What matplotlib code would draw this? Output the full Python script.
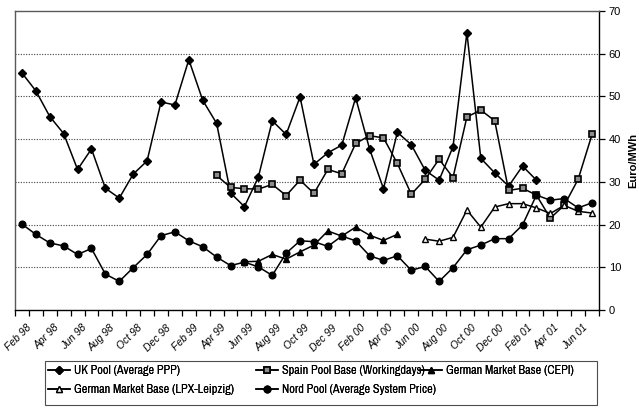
import numpy as np
import matplotlib
matplotlib.use("Agg")
import matplotlib.pyplot as plt
from matplotlib import font_manager as fm
from matplotlib.font_manager import FontProperties
from matplotlib.patches import Rectangle

nan = np.nan

# Monthly prices, Feb 98 .. Jul 01 (42 months)
n_months = 42
tick_labels = ["Feb 98", "Apr 98", "Jun 98", "Aug 98", "Oct 98", "Dec 98",
               "Feb 99", "Apr 99", "Jun 99", "Aug 99", "Oct 99", "Dec 99",
               "Feb 00", "Apr 00", "Jun 00", "Aug 00", "Oct 00", "Dec 00",
               "Feb 01", "Apr 01", "Jun 01"]

uk_pool = [55.5, 51.3, 45.3, 41.3, 32.9, 37.7, 28.5, 26.2, 31.8, 34.9, 48.7, 48.0,
           58.6, 49.1, 43.7, 27.4, 24.2, 31.1, 44.3, 41.1, 49.9, 34.1, 36.8, 38.6,
           49.7, 37.7, 28.4, 41.6, 38.7, 32.7, 30.4, 38.2, 64.9, 35.5, 32.1, 29.0,
           33.7, 30.4, nan, nan, nan, nan]

spain_pool = [nan] * 14 + [31.5, 28.7, 28.4, 28.3, 29.4, 26.8, 30.4, 27.3, 32.9, 31.9,
                           39.0, 40.8, 40.3, 34.3, 27.1, 30.6, 35.3, 31.0, 45.2, 46.8,
                           44.3, 28.0, 28.5, 26.9, 21.5, 24.5, 30.6, 41.1]

german_cepi = [nan] * 16 + [11.3, 11.4, 13.0, 11.9, 13.6, 15.2, 18.5, 17.3, 19.4, 17.5,
                            16.3, 17.7] + [nan] * 14

german_lpx = [nan] * 29 + [16.6, 16.1, 17.0, 23.4, 19.4, 24.1, 24.9, 24.9, 23.9, 22.6,
                           24.5, 23.1, 22.7]

nord_pool = [20.1, 17.7, 15.7, 15.0, 13.0, 14.4, 8.4, 6.7, 9.9, 13.0, 17.4, 18.3,
             16.2, 14.8, 12.4, 10.4, 11.2, 10.1, 8.1, 13.3, 16.2, 16.0, 14.9, 17.3,
             16.2, 12.7, 11.6, 12.7, 9.3, 10.2, 6.7, 9.9, 14.1, 15.2, 16.7, 16.7,
             19.9, 26.9, 25.7, 26.1, 23.9, 25.1]

names = ["UK Pool (Average PPP)", "Spain Pool Base (Workingdays)",
         "German Market Base (CEPI)", "German Market Base (LPX-Leipzig)",
         "Nord Pool (Average System Price)"]

plt.rcParams["font.family"] = ["Liberation Sans", "DejaVu Sans"]


def narrow_font():
    """Return a condensed sans-serif face if one is installed."""
    best = None
    for f in fm.fontManager.ttflist:
        if f.style != "normal" or f.weight not in (400, "normal", "regular"):
            continue
        if "Narrow" in f.name:
            return f.fname
        if f.stretch in ("condensed", "semi-condensed") and best is None:
            best = f.fname
    return best


nf = narrow_font()
if nf:
    legend_font = FontProperties(fname=nf, size=8.8)
else:
    legend_font = FontProperties(family="Liberation Sans", size=7.0)

fig = plt.figure(figsize=(6.39, 4.13), dpi=100)
W, H = 639, 413
ax = fig.add_axes([15 / W, 1 - 310 / H, (599 - 15) / W, (310 - 11) / H])

x = np.arange(n_months)
lw = 1.1
ms = 4.5
h_uk, = ax.plot(x, uk_pool, color="k", lw=lw, marker="D", ms=ms - 0.8, mfc="k", mec="k")
h_es, = ax.plot(x, spain_pool, color="k", lw=lw, marker="s", ms=ms, mfc="0.55", mec="k",
                mew=1.2)
h_ce, = ax.plot(x, german_cepi, color="k", lw=lw, marker="^", ms=ms + 0.5, mfc="k", mec="k")
h_lp, = ax.plot(x, german_lpx, color="k", lw=lw, marker="^", ms=ms + 0.5, mfc="white",
                mec="k", mew=1.0)
h_np, = ax.plot(x, nord_pool, color="k", lw=lw, marker="o", ms=ms + 0.3, mfc="k", mec="k")

ax.set_xlim(-0.5, n_months - 0.5)
ax.set_ylim(0, 70)

# y axis on the right
ax.yaxis.tick_right()
ax.yaxis.set_label_position("right")
ax.set_yticks(np.arange(0, 71, 10))
ax.tick_params(axis="y", direction="out", length=4, width=0.9, labelsize=8, pad=3)
ax.set_ylabel("Euro/MWh", fontsize=8, fontweight="bold", labelpad=5)
for yv in range(10, 70, 10):
    ax.axhline(yv, color="0.25", lw=0.8, ls=(0, (1, 1.4)), zorder=0)

# category ticks between months, labels every second month
ax.set_xticks(np.arange(-0.5, n_months, 1.0))
ax.set_xticklabels([])
ax.tick_params(axis="x", direction="out", length=4, width=0.9)
label_pos = np.arange(0, n_months, 2)
for pos, lab in zip(label_pos, tick_labels):
    ax.text(pos + 0.3, -3.0, lab, rotation=45, ha="right", va="top",
            rotation_mode="anchor", fontsize=7.5, style="italic",
            transform=ax.transData)

for side in ["left", "top"]:
    ax.spines[side].set_color("0.35")
    ax.spines[side].set_linewidth(1.0)
ax.spines["right"].set_linewidth(1.0)
ax.spines["bottom"].set_linewidth(1.0)

# legend: framed box with three manually placed columns
box_l, box_r, box_t, box_b = 45, 597, 361, 405
fig.patches.append(Rectangle((box_l / W, 1 - box_b / H), (box_r - box_l) / W,
                             (box_b - box_t) / H, transform=fig.transFigure,
                             fill=False, edgecolor="0.3", lw=0.8))
columns = [([h_uk, h_lp], [names[0], names[3]], 48),
           ([h_es, h_np], [names[1], names[4]], 256),
           ([h_ce], [names[2]], 420)]
for hs, ls_, xpx in columns:
    lg = fig.legend(hs, ls_, loc="upper left", bbox_to_anchor=(xpx / W, 1 - 365 / H),
                    prop=legend_font, frameon=False, handlelength=1.8,
                    handletextpad=0.3, borderpad=0.0, borderaxespad=0.0,
                    labelspacing=0.65)
    fig.add_artist(lg)

fig.savefig("out.png", dpi=100)
